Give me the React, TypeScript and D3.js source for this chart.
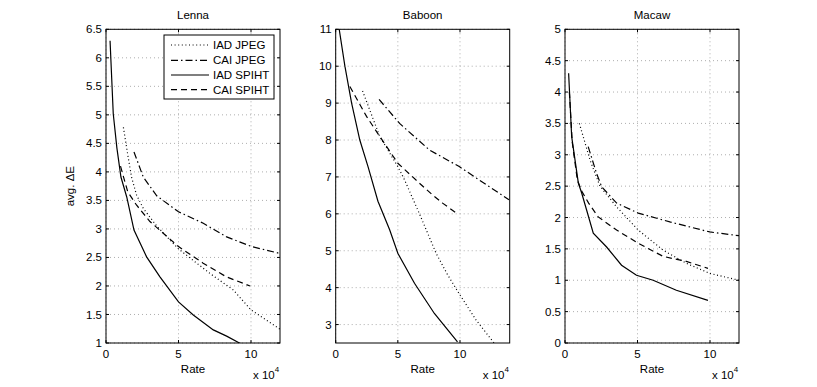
import React from "react";
import * as d3 from "d3";

// image names (one panel each) and series names
const images = ["Lenna", "Baboon", "Macaw"];
const seriesNames = ["IAD JPEG", "CAI JPEG", "IAD SPIHT", "CAI SPIHT"];

// rate (x 10^4), avg. deltaE
const lennaIadJpeg = [[1.2, 4.78], [1.5, 4.3], [1.77, 3.9], [2.1, 3.6], [2.57, 3.36], [3.5, 3.05], [5, 2.65], [6, 2.45], [7.17, 2.22], [8.78, 1.93], [10, 1.58], [12, 1.24]];
const lennaCaiJpeg = [[1.93, 4.35], [2.57, 3.91], [3.5, 3.58], [5, 3.3], [6.71, 3.1], [8.32, 2.86], [10.05, 2.69], [12, 2.57]];
const lennaIadSpiht = [[0.28, 6.3], [0.5, 5.02], [0.75, 4.42], [1.03, 3.91], [1.43, 3.56], [1.93, 2.98], [2.8, 2.51], [3.72, 2.16], [5, 1.72], [6.02, 1.49], [7.4, 1.23], [8.32, 1.12], [9.2, 1.0], [9.9, 0.9]];
const lennaCaiSpiht = [[1.0, 4.1], [1.5, 3.65], [2.1, 3.42], [3.03, 3.13], [5, 2.69], [6.7, 2.4], [8.3, 2.16], [9.93, 2.0]];

const baboonIadJpeg = [[2.16, 9.33], [3.54, 8.1], [5.0, 7.28], [5.54, 6.92], [6.74, 6.0], [8.08, 4.93], [9.0, 4.35], [10, 3.8], [11.3, 3.12], [12.74, 2.5]];
const baboonCaiJpeg = [[3.49, 9.1], [5.14, 8.45], [7.54, 7.73], [9.94, 7.28], [12.34, 6.74], [13.94, 6.38]];
const baboonIadSpiht = [[0.1, 11.4], [0.74, 10.0], [1.28, 9.0], [1.94, 8.0], [2.6, 7.28], [3.4, 6.34], [4.34, 5.57], [5.0, 4.93], [6.34, 4.12], [7.94, 3.3], [9.8, 2.53]];
const baboonCaiSpiht = [[1.14, 9.45], [2.48, 8.64], [3.54, 8.1], [5.0, 7.37], [6.74, 6.83], [7.8, 6.51], [8.6, 6.29], [9.8, 6.0]];

const macawIadJpeg = [[0.99, 3.5], [1.72, 2.92], [2.41, 2.5], [3.56, 2.17], [5.05, 1.8], [6.77, 1.48], [8.37, 1.27], [9.98, 1.11], [12, 1.0]];
const macawCaiJpeg = [[1.6, 3.13], [2.18, 2.7], [2.53, 2.49], [3.56, 2.23], [5.05, 2.07], [7.23, 1.93], [9.98, 1.77], [12, 1.71]];
const macawIadSpiht = [[0.25, 4.3], [0.46, 3.29], [0.92, 2.55], [1.15, 2.39], [1.49, 2.12], [1.95, 1.75], [2.87, 1.53], [3.9, 1.24], [4.93, 1.08], [6.08, 1.0], [7.68, 0.84], [9.86, 0.68]];
const macawCaiSpiht = [[0.3, 4.0], [0.5, 3.2], [0.85, 2.6], [1.15, 2.42], [1.63, 2.23], [2.29, 2.01], [3.56, 1.8], [5.05, 1.59], [6.77, 1.38], [8.37, 1.3], [9.86, 1.19]];

// axis ranges and tick labels
const xDomains = [[0, 12], [0, 14], [0, 12]];
const yDomains = [[1, 6.5], [2.5, 11], [0, 5]];
const xTicks = [0, 5, 10];
const yTicksLenna = [1, 1.5, 2, 2.5, 3, 3.5, 4, 4.5, 5, 5.5, 6, 6.5];
const yTicksBaboon = [3, 4, 5, 6, 7, 8, 9, 10, 11];
const yTicksMacaw = [0, 0.5, 1, 1.5, 2, 2.5, 3, 3.5, 4, 4.5, 5];

const panelData = [
  [lennaIadJpeg, lennaCaiJpeg, lennaIadSpiht, lennaCaiSpiht],
  [baboonIadJpeg, baboonCaiJpeg, baboonIadSpiht, baboonCaiSpiht],
  [macawIadJpeg, macawCaiJpeg, macawIadSpiht, macawCaiSpiht],
];
const panelYTicks = [yTicksLenna, yTicksBaboon, yTicksMacaw];

const W = 817;
const H = 387;
const lefts = [106, 335.7, 565];
const plotW = 174;
const top = 29.3;
const bottom = 343;
const font = "'Liberation Sans', Arial, Helvetica, sans-serif";
const dashes = ["1,2.6", "7,3,1.5,3", null, "6,4"];

function Panel({ i }: { i: number }) {
  const left = lefts[i];
  const x = d3.scaleLinear().domain(xDomains[i]).range([left, left + plotW]);
  const y = d3.scaleLinear().domain(yDomains[i]).range([bottom, top]);
  const line = d3
    .line<number[]>()
    .x(d => x(d[0]))
    .y(d => y(d[1]));
  const tl = 3;
  return (
    <g>
      <defs>
        <clipPath id={"clip" + i}>
          <rect x={left} y={top} width={plotW} height={bottom - top} />
        </clipPath>
      </defs>
      <rect x={left} y={top} width={plotW} height={bottom - top} fill="#fff" />
      {/* grid */}
      {xTicks.map(t => (
        <line key={"gx" + t} x1={x(t)} x2={x(t)} y1={top} y2={bottom} stroke="#999" strokeWidth={0.8} strokeDasharray="1,3" />
      ))}
      {panelYTicks[i].map(t => (
        <line key={"gy" + t} x1={left} x2={left + plotW} y1={y(t)} y2={y(t)} stroke="#999" strokeWidth={0.8} strokeDasharray="1,3" />
      ))}
      {/* curves */}
      <g clipPath={`url(#clip${i})`}>
        {panelData[i].map((s, k) => (
          <path
            key={k}
            d={line(s) || ""}
            fill="none"
            stroke="#000"
            strokeWidth={1.2}
            strokeDasharray={dashes[k] || undefined}
          />
        ))}
      </g>
      {/* box and ticks */}
      <rect x={left} y={top} width={plotW} height={bottom - top} fill="none" stroke="#000" strokeWidth={1} />
      {xTicks.map(t => (
        <g key={"tx" + t}>
          <line x1={x(t)} x2={x(t)} y1={bottom} y2={bottom - tl} stroke="#000" />
          <line x1={x(t)} x2={x(t)} y1={top} y2={top + tl} stroke="#000" />
          <text x={x(t)} y={358} textAnchor="middle" fontSize={11.5} fontFamily={font}>
            {t}
          </text>
        </g>
      ))}
      {panelYTicks[i].map(t => (
        <g key={"ty" + t}>
          <line x1={left} x2={left + tl} y1={y(t)} y2={y(t)} stroke="#000" />
          <line x1={left + plotW} x2={left + plotW - tl} y1={y(t)} y2={y(t)} stroke="#000" />
          <text x={left - 4} y={y(t)} dy="0.35em" textAnchor="end" fontSize={11.5} fontFamily={font}>
            {t}
          </text>
        </g>
      ))}
      <text x={left + plotW / 2} y={19} textAnchor="middle" fontSize={11.5} fontFamily={font}>
        {images[i]}
      </text>
      <text x={left + plotW / 2} y={373} textAnchor="middle" fontSize={11.5} fontFamily={font}>
        Rate
      </text>
      <text x={left + plotW - 27} y={379} fontSize={11.5} fontFamily={font}>
        x 10
        <tspan fontSize={8} dy={-7}>4</tspan>
      </text>
    </g>
  );
}

function Legend() {
  const lx = 164;
  const ly = 35;
  const rowY = [45, 60.3, 75, 89.7];
  return (
    <g>
      <rect x={lx} y={ly} width={110} height={64} fill="#fff" stroke="#000" strokeWidth={1} />
      {seriesNames.map((n, k) => (
        <g key={n}>
          <line
            x1={171}
            x2={209}
            y1={rowY[k]}
            y2={rowY[k]}
            stroke="#000"
            strokeWidth={1.2}
            strokeDasharray={dashes[k] || undefined}
          />
          <text x={213} y={rowY[k]} dy="0.35em" fontSize={11.5} fontFamily={font}>
            {n}
          </text>
        </g>
      ))}
    </g>
  );
}

export default function App() {
  return (
    <svg
      width={W}
      height={H}
      style={{ position: "absolute", left: 0, top: 0, background: "#fff" }}
    >
      <rect width={W} height={H} fill="#fff" />
      {images.map((_, i) => (
        <Panel key={i} i={i} />
      ))}
      <Legend />
      <text
        transform={`translate(74,${(top + bottom) / 2}) rotate(-90)`}
        textAnchor="middle"
        fontSize={11.5}
        fontFamily={font}
      >
        avg. ΔE
      </text>
    </svg>
  );
}
